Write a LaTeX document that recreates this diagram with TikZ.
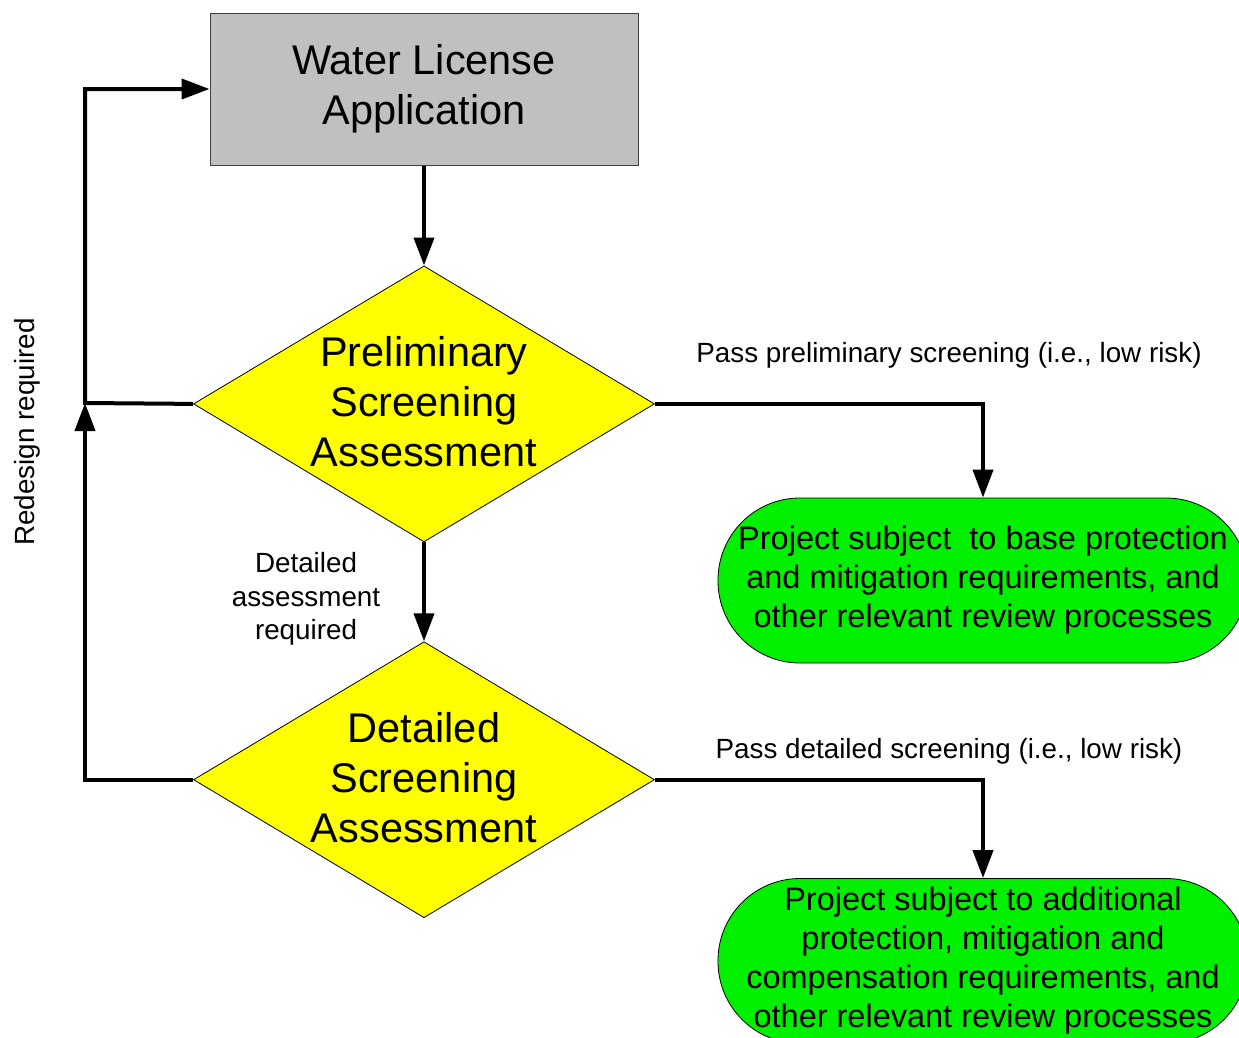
\documentclass[tikz,border=0pt]{standalone}
\usepackage{fontspec}
\setmainfont{Liberation Sans}
\usetikzlibrary{arrows.meta,shapes.geometric,positioning}
\definecolor{appgray}{HTML}{C0C0C0}
\definecolor{appedge}{HTML}{404040}
\definecolor{screenyellow}{HTML}{FFFF00}
\definecolor{passgreen}{HTML}{00F000}
\tikzset{
appbox/.style={
    rectangle,
    minimum width=428pt,
    minimum height=152pt,
    fill=appgray,
    draw=appedge,
    line width=1pt,
    align=center,
    font=\fontsize{41.5}{50}\selectfont
},
decision/.style={
    diamond,
    minimum width=461pt,
    minimum height=276pt,
    inner sep=0pt,
    fill=screenyellow,
    draw=black,
    line width=0.8pt
},
decisiontext/.style={
    align=center,
    inner sep=0pt,
    yshift=2pt,
    font=\fontsize{41.5}{50}\selectfont
},
outcome/.style={
    rectangle,
    rounded corners=82pt,
    minimum width=530pt,
    minimum height=165pt,
    inner sep=0pt,
    fill=passgreen,
    draw=black,
    line width=0.8pt,
    align=center,
    font=\fontsize{32.5}{39}\selectfont
},
flowlabel/.style={
    align=center,
    inner sep=0pt,
    font=\fontsize{27.8}{33.5}\selectfont
},
flow/.style={
    line width=4pt,
    -{Triangle[length=28pt,width=20pt]}
},
}
\begin{document}
\begin{tikzpicture}[x=1pt,y=-1pt]
\useasboundingbox (0,0) rectangle (1239,1037);

\node [appbox] (app) at (424,89) {Water License\\Application};
%
\node [decision,below=100pt of app] (prelim) {};
\node [decisiontext] (prelimtext) at (prelim) {Preliminary\\Screening\\Assessment};
\node [decision,below=99pt of prelim] (detail) {};
\node [decisiontext] (detailtext) at (detail) {Detailed\\Screening\\Assessment};
%
\node [outcome] (base) at (983,580.5) {Project subject\ \ to base protection\\and mitigation requirements, and\\other relevant review processes};
\node [outcome] (extra) at (983,961) {Project subject to additional\\protection, mitigation and\\compensation requirements, and\\other relevant review processes};
%
\node [flowlabel] (passprelim) at (949,355) {Pass preliminary screening (i.e., low risk)};
\node [flowlabel] (passdetail) at (949,751) {Pass detailed screening (i.e., low risk)};
\node [flowlabel] (needdetail) at (306,599) {Detailed\\assessment\\required};
\node [flowlabel,rotate=90] (redesign) at (27,432) {Redesign required};
%
\coordinate (loop) at (85,403);

\draw [flow] (app.south) -- (prelim.north);
\draw [flow] (prelim.east) -| (base.north);
\draw [flow] (prelim.south) -- (detail.north);
\draw [flow] (detail.east) -| (extra.north);
\draw [flow] (detail.west) -| (loop);
\draw [flow] (prelim.west) -- (loop) |- (app.west);

\end{tikzpicture}
\end{document}
